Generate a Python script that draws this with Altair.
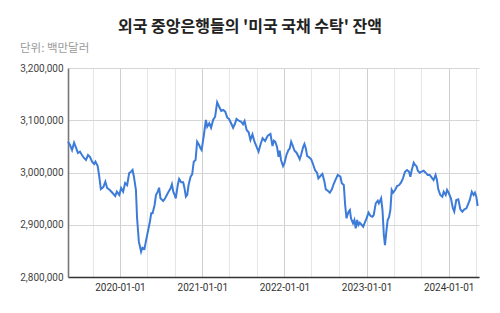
import altair as alt
import pandas as pd

TITLE = "외국 중앙은행들의 '미국 국채 수탁' 잔액"
SUBTITLE = "단위: 백만달러"

dates_2019 = ["2019-05-15", "2019-05-24", "2019-06-02", "2019-06-11", "2019-06-20", "2019-06-28",
              "2019-07-07", "2019-07-16", "2019-07-25", "2019-08-03", "2019-08-12", "2019-08-21",
              "2019-08-30", "2019-09-08", "2019-09-14", "2019-09-24", "2019-10-01", "2019-10-08",
              "2019-10-19", "2019-10-28", "2019-11-05", "2019-11-17", "2019-11-29", "2019-12-11",
              "2019-12-18", "2019-12-29"]
vals_2019 = [3058900, 3052600, 3043000, 3057000, 3047000, 3037300,
             3040000, 3033500, 3027800, 3024000, 3033500, 3029700,
             3020700, 3016300, 3020700, 3012400, 2992000, 2968400,
             2972200, 2982400, 2970300, 2966500, 2960800, 2955000,
             2963300, 2957000]

dates_2020 = ["2020-01-06", "2020-01-15", "2020-01-24", "2020-02-02", "2020-02-11", "2020-02-19",
              "2020-02-26", "2020-03-03", "2020-03-12", "2020-03-17", "2020-03-25", "2020-04-04",
              "2020-04-10", "2020-04-19", "2020-04-25", "2020-05-04", "2020-05-13", "2020-05-19",
              "2020-05-25", "2020-06-03", "2020-06-09", "2020-06-17", "2020-06-23", "2020-06-29",
              "2020-07-11", "2020-07-20", "2020-07-29", "2020-08-04", "2020-08-13", "2020-08-19",
              "2020-08-25", "2020-08-31", "2020-09-05", "2020-09-14", "2020-09-20", "2020-09-29",
              "2020-10-08", "2020-10-14", "2020-10-20", "2020-10-26", "2020-11-01", "2020-11-10",
              "2020-11-17", "2020-11-24", "2020-12-02", "2020-12-09", "2020-12-18", "2020-12-24",
              "2020-12-29"]
vals_2020 = [2970300, 2963300, 2980000, 2976000, 2999000, 3001500,
             3004800, 2992000, 2966500, 2912900, 2867600, 2848400,
             2856000, 2853600, 2867600, 2886700, 2905800, 2921900,
             2921900, 2937800, 2956900, 2963300, 2970900, 2950600,
             2945500, 2950600, 2958300, 2963300, 2969800, 2977400,
             2963300, 2957000, 2950600, 2976000, 2987600, 2981200,
             2981200, 2969800, 2953700, 2957000, 2976000, 2992000,
             2996600, 3020700, 3023900, 3059000, 3052600, 3046300,
             3043000]

dates_2021 = ["2021-01-08", "2021-01-17", "2021-01-23", "2021-02-01", "2021-02-09", "2021-02-18",
              "2021-02-27", "2021-03-08", "2021-03-17", "2021-03-26", "2021-04-04", "2021-04-13",
              "2021-04-22", "2021-04-30", "2021-05-09", "2021-05-18", "2021-05-27", "2021-06-02",
              "2021-06-14", "2021-06-23", "2021-07-01", "2021-07-08", "2021-07-17", "2021-07-26",
              "2021-08-03", "2021-08-12", "2021-08-21", "2021-08-30", "2021-09-08", "2021-09-17",
              "2021-09-26", "2021-10-07", "2021-10-19", "2021-10-31", "2021-11-09", "2021-11-15",
              "2021-11-21", "2021-11-29", "2021-12-06", "2021-12-11", "2021-12-17", "2021-12-26"]
vals_2021 = [3071800, 3100500, 3087700, 3094200, 3085700, 3100500,
             3106800, 3134400, 3125900, 3117700, 3119600, 3116400,
             3104900, 3102400, 3094200, 3085700, 3094200, 3102400,
             3098600, 3097200, 3092300, 3098600, 3081300, 3076900,
             3062200, 3073100, 3059000, 3049400, 3039800, 3054000,
             3065500, 3060300, 3070400, 3073700, 3050700, 3060900,
             3059000, 3049400, 3030200, 3041700, 3023900, 3012400]

dates_2022 = ["2022-01-01", "2022-01-10", "2022-01-19", "2022-01-25", "2022-01-31", "2022-02-06",
              "2022-02-15", "2022-02-24", "2022-03-05", "2022-03-10", "2022-03-16", "2022-03-25",
              "2022-03-31", "2022-04-06", "2022-04-12", "2022-04-21", "2022-04-30", "2022-05-08",
              "2022-05-17", "2022-05-26", "2022-06-01", "2022-06-10", "2022-06-19", "2022-06-28",
              "2022-07-04", "2022-07-13", "2022-07-22", "2022-07-31", "2022-08-08", "2022-08-17",
              "2022-08-26", "2022-09-07", "2022-09-13", "2022-09-22", "2022-09-28", "2022-10-04",
              "2022-10-13", "2022-10-19", "2022-10-24", "2022-11-02", "2022-11-08", "2022-11-14",
              "2022-11-20", "2022-11-26", "2022-12-02", "2022-12-11", "2022-12-17", "2022-12-23"]
vals_2022 = [3017600, 3033500, 3043000, 3046300, 3059000, 3052600,
             3041700, 3037900, 3030200, 3025300, 3033500, 3048200,
             3054500, 3046300, 3031600, 3029100, 3025300, 3016300,
             3004800, 2999600, 2988900, 2993300, 2997100, 2982400,
             2967800, 2965200, 2961300, 2967800, 2978000, 2987000,
             2995200, 2992000, 2979300, 2976000, 2937800, 2912300,
             2925000, 2928200, 2912300, 2902800, 2909100, 2893200,
             2909100, 2899500, 2903900, 2899500, 2896300, 2902800]

dates_2023 = ["2023-01-01", "2023-01-10", "2023-01-19", "2023-01-27", "2023-02-02", "2023-02-11",
              "2023-02-20", "2023-02-25", "2023-03-07", "2023-03-13", "2023-03-19", "2023-03-24",
              "2023-03-31", "2023-04-05", "2023-04-11", "2023-04-17", "2023-04-23", "2023-04-29",
              "2023-05-08", "2023-05-17", "2023-05-26", "2023-06-03", "2023-06-12", "2023-06-21",
              "2023-06-30", "2023-07-09", "2023-07-15", "2023-07-21", "2023-07-30", "2023-08-05",
              "2023-08-11", "2023-08-17", "2023-08-26", "2023-09-03", "2023-09-12", "2023-09-21",
              "2023-09-30", "2023-10-09", "2023-10-17", "2023-10-26", "2023-11-04", "2023-11-10",
              "2023-11-16", "2023-11-25", "2023-12-04", "2023-12-10", "2023-12-19", "2023-12-25"]
vals_2023 = [2912300, 2923100, 2916700, 2915400, 2918700, 2941000,
             2946000, 2941000, 2950600, 2928200, 2880400, 2861200,
             2890000, 2909100, 2914300, 2928200, 2966500, 2961300,
             2966500, 2974200, 2976000, 2980500, 2988900, 3001500,
             3004800, 3001500, 2992000, 3004800, 3018800, 3014400,
             3012400, 3003400, 2999600, 3001500, 3003400, 2999600,
             2995200, 2995200, 2990800, 2985600, 2995200, 2985600,
             2967800, 2957000, 2953700, 2963300, 2957000, 2966500]

dates_2024 = ["2024-01-02", "2024-01-11", "2024-01-20", "2024-01-26", "2024-02-04", "2024-02-13",
              "2024-02-22", "2024-03-02", "2024-03-11", "2024-03-20", "2024-03-29", "2024-04-04",
              "2024-04-13", "2024-04-21", "2024-04-27", "2024-05-03", "2024-05-09"]
vals_2024 = [2960200, 2950600, 2931500, 2925000, 2947400, 2948700,
             2929600, 2925000, 2929600, 2931500, 2941000, 2947400,
             2963300, 2957000, 2961300, 2953700, 2935900]

y_ticks = [2800000, 2900000, 3000000, 3100000, 3200000]
x_grid = [(2019, 5), (2019, 9), (2020, 1), (2020, 5), (2020, 9), (2021, 1), (2021, 5), (2021, 9),
          (2022, 1), (2022, 5), (2022, 9), (2023, 1), (2023, 5), (2023, 9), (2024, 1), (2024, 5)]

dates = dates_2019 + dates_2020 + dates_2021 + dates_2022 + dates_2023 + dates_2024
vals = vals_2019 + vals_2020 + vals_2021 + vals_2022 + vals_2023 + vals_2024
df = pd.DataFrame({"date": dates, "value": vals})

W, H = 411, 209

line = alt.Chart(df).mark_line(color="#3d7bd9", strokeWidth=2, clip=False).encode(
    x=alt.X("date:T",
            scale=alt.Scale(type="utc",
                            domain=[alt.DateTime(year=2019, month=5, date=15, utc=True),
                                    alt.DateTime(year=2024, month=5, date=15, utc=True)]),
            axis=alt.Axis(title=None,
                          values=[alt.DateTime(year=y, month=m, date=1, utc=True) for y, m in x_grid],
                          labelExpr="utcmonth(datum.value) == 0 ? utcFormat(datum.value, '%Y-%m-%d') : ''",
                          labelFont="Roboto", labelFontSize=10, labelColor="#333",
                          labelPadding=5, labelFlush=False, labelOverlap=False,
                          ticks=False, domainColor="#333", domainWidth=1.3,
                          gridColor={"condition": {"test": "utcmonth(datum.value) == 0", "value": "#cfcfcf"},
                                     "value": "#e6e6e6"},
                          gridWidth=1)),
    y=alt.Y("value:Q",
            scale=alt.Scale(domain=[2800000, 3200000], nice=False, zero=False),
            axis=alt.Axis(title=None, values=y_ticks, format=",d",
                          labelFont="Roboto", labelFontSize=10, labelColor="#444",
                          labelPadding=5, ticks=False, domainColor="#777", domainWidth=1.6,
                          gridColor="#d6d6d6", gridWidth=1)),
)

sub = alt.Chart(pd.DataFrame({"t": [SUBTITLE]})).mark_text(
    align="left", baseline="alphabetic", font="Noto Sans CJK KR", fontSize=11.5, color="#9a9a9a"
).encode(x=alt.value(-48), y=alt.value(-16), text="t:N")

ttl = alt.Chart(pd.DataFrame({"t": [TITLE]})).mark_text(
    align="center", baseline="alphabetic", font="Noto Sans CJK KR", fontSize=16, fontWeight="bold",
    color="#222"
).encode(x=alt.value(182), y=alt.value(-36), text="t:N")

chart = alt.layer(line, sub, ttl).properties(
    width=W, height=H,
    autosize=alt.AutoSizeParams(type="none"),
    padding={"left": 68, "top": 68, "right": 21, "bottom": 36},
    background="white",
).configure_view(stroke=None)

chart.save("out.html", embed_options={"renderer": "svg", "actions": False})
